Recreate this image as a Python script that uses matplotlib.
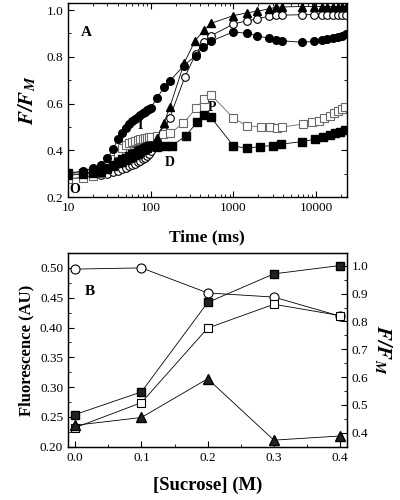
import matplotlib
matplotlib.use('Agg')
import matplotlib.pyplot as plt
from matplotlib.ticker import MultipleLocator, LogLocator, NullFormatter, FixedLocator

plt.rcParams['font.family'] = ['Liberation Serif', 'DejaVu Serif']
plt.rcParams['mathtext.fontset'] = 'stix'

# ---- Panel A: fluorescence induction curves ----
t_early = [10, 15, 20, 25, 30, 35, 40, 45, 50, 55, 60, 65, 70, 75, 80, 85, 90, 95, 100]

t_fcirc = t_early + [120, 145, 170, 250, 350, 430, 530, 1000, 1450, 1950, 2700, 3300, 3850,
                     6700, 9500, 11700, 13700, 15900, 18200, 20500, 23000]
y_fcirc = [0.303, 0.312, 0.324, 0.340, 0.367, 0.405, 0.447, 0.475, 0.497, 0.512, 0.524, 0.535,
           0.544, 0.552, 0.559, 0.565, 0.571, 0.576, 0.582,
           0.625, 0.670, 0.697, 0.761, 0.805, 0.843, 0.866, 0.907, 0.900, 0.890, 0.879, 0.872,
           0.869, 0.862, 0.866, 0.872, 0.876, 0.879, 0.883, 0.889, 0.896]

t_ocirc = t_early + [120, 145, 170, 260, 350, 440, 530, 1000, 1450, 1950, 2700, 3300, 3850,
                     6700, 9500, 11700, 13700, 15900, 18200, 20500, 23000]
y_ocirc = [0.278, 0.285, 0.290, 0.295, 0.300, 0.307, 0.313, 0.320, 0.326, 0.332, 0.338, 0.344,
           0.350, 0.356, 0.363, 0.370, 0.378, 0.387, 0.397,
           0.430, 0.485, 0.540, 0.715, 0.812, 0.865, 0.889, 0.940, 0.954, 0.962, 0.974, 0.977,
           0.978, 0.980, 0.980, 0.980, 0.980, 0.980, 0.980, 0.980, 0.980]

t_tri = t_early + [120, 145, 170, 255, 345, 445, 535, 1000, 1450, 1950, 2700, 3300, 3850,
                   6700, 9500, 11700, 13700, 15900, 18200, 20500, 23000]
y_tri = [0.295, 0.298, 0.302, 0.310, 0.320, 0.335, 0.345, 0.352, 0.360, 0.367, 0.374, 0.380,
         0.387, 0.393, 0.400, 0.406, 0.412, 0.418, 0.424,
         0.455, 0.519, 0.584, 0.775, 0.869, 0.915, 0.943, 0.976, 0.988, 0.995, 1.005, 1.012,
         1.013, 1.015, 1.015, 1.015, 1.015, 1.015, 1.015, 1.015, 1.015]

t_fsq = t_early + [120, 150, 180, 265, 367, 446, 535, 1000, 1450, 2100, 3000, 3800,
                   6800, 9700, 12200, 14800, 17000, 19500, 22300]
y_fsq = [0.303, 0.305, 0.308, 0.315, 0.325, 0.340, 0.352, 0.362, 0.370, 0.377, 0.384, 0.390,
         0.396, 0.402, 0.407, 0.412, 0.416, 0.419, 0.421,
         0.415, 0.418, 0.420, 0.462, 0.522, 0.552, 0.542, 0.420, 0.409, 0.417, 0.421, 0.427,
         0.438, 0.448, 0.458, 0.466, 0.473, 0.481, 0.488]

t_osq = t_early + [120, 140, 171, 248, 353, 440, 535, 1000, 1450, 2160, 2780, 3340, 3900,
                   7000, 8900, 10900, 12600, 14700, 16600, 18600, 20700, 22700]
y_osq = [0.280, 0.283, 0.290, 0.305, 0.335, 0.365, 0.390, 0.410, 0.425, 0.433, 0.438, 0.442,
         0.445, 0.448, 0.450, 0.452, 0.455, 0.457, 0.458,
         0.460, 0.469, 0.473, 0.516, 0.580, 0.619, 0.638, 0.539, 0.505, 0.502, 0.499, 0.497,
         0.500, 0.513, 0.522, 0.527, 0.540, 0.549, 0.559, 0.567, 0.576, 0.584]

# ---- Panel B: versus sucrose ----
sucrose = [0.0, 0.1, 0.2, 0.3, 0.4]
b_ocirc = [0.498, 0.500, 0.458, 0.451, 0.419]
b_fsq = [0.254, 0.292, 0.442, 0.490, 0.504]
b_osq = [0.232, 0.274, 0.399, 0.439, 0.420]
b_tri = [0.236, 0.249, 0.314, 0.211, 0.218]

fig = plt.figure(figsize=(4, 5), dpi=100)

ax = fig.add_axes([0.17, 0.6054, 0.6967, 0.3886])
ms = 5.5
lw = 0.6
ax.plot(t_ocirc, y_ocirc, '-o', color='black', mfc='white', mec='black', ms=ms, lw=lw, mew=0.8)
ax.plot(t_osq, y_osq, '-s', color='dimgray', mfc='white', mec='dimgray', ms=ms, lw=lw, mew=0.8)
ax.plot(t_fsq, y_fsq, '-s', color='black', mfc='black', ms=ms, lw=lw)
ax.plot(t_tri, y_tri, '-^', color='black', mfc='black', ms=ms, lw=lw)
ax.plot(t_fcirc, y_fcirc, '-o', color='black', mfc='black', ms=ms, lw=lw)

ax.set_xscale('log')
ax.set_xlim(10, 23500)
ax.set_ylim(0.2, 1.03)
ax.yaxis.set_major_locator(MultipleLocator(0.2))
ax.yaxis.set_minor_locator(MultipleLocator(0.1))
ax.xaxis.set_major_locator(FixedLocator([10, 100, 1000, 10000]))
ax.xaxis.set_minor_locator(LogLocator(base=10, subs=range(2, 10), numticks=20))
ax.xaxis.set_minor_formatter(NullFormatter())
ax.set_xticklabels(['10', '100', '1000', '10000'])
ax.tick_params(which='both', direction='in', top=True, right=True, labelsize=9.5)
ax.tick_params(which='major', length=4)
ax.tick_params(which='minor', length=2)
ax.set_xlabel('Time (ms)', fontsize=12.5, fontweight='bold', labelpad=11)
ax.set_ylabel(r'$\mathbfit{F/F}_{\mathbfit{M}}$', fontsize=15, labelpad=6)
for s in ax.spines.values():
    s.set_linewidth(1.0)

ax.text(0.065, 0.846, 'A', transform=ax.transAxes, fontsize=11, fontweight='bold',
        ha='center', va='center')
ax.text(12.2, 0.235, 'O', fontsize=10, fontweight='bold', ha='center', va='center', zorder=10)
ax.text(74, 0.505, 'I', fontsize=10, fontweight='bold', ha='center', va='center', zorder=10)
ax.text(168, 0.35, 'D', fontsize=10, fontweight='bold', ha='center', va='center', zorder=10)
ax.text(556, 0.585, 'P', fontsize=10, fontweight='bold', ha='center', va='center', zorder=10)

# panel B
bx = fig.add_axes([0.17, 0.1054, 0.6967, 0.3886])
bx.plot(sucrose, b_ocirc, '-o', color='black', mfc='white', ms=6.5, lw=lw, mew=0.8)
bx.plot(sucrose, b_osq, '-s', color='black', mfc='white', ms=6, lw=lw, mew=0.8)
bx.plot(sucrose, b_fsq, '-s', color='black', mfc='#222222', ms=5.5, lw=lw)
bx.plot(sucrose, b_tri, '-^', color='black', mfc='#222222', ms=6.5, lw=lw)
bx.set_xlim(-0.011, 0.41)
bx.set_ylim(0.199, 0.525)
bx.xaxis.set_major_locator(MultipleLocator(0.1))
bx.xaxis.set_minor_locator(MultipleLocator(0.05))
bx.yaxis.set_major_locator(MultipleLocator(0.05))
bx.yaxis.set_minor_locator(MultipleLocator(0.025))
bx.tick_params(which='both', direction='in', labelsize=9.5)
bx.tick_params(which='major', length=4)
bx.tick_params(which='minor', length=2)
bx.set_xlabel('[Sucrose] (M)', fontsize=13.5, fontweight='bold', labelpad=9)
bx.set_ylabel('Fluorescence (AU)', fontsize=12, fontweight='bold', labelpad=4)
bx.text(0.079, 0.80, 'B', transform=bx.transAxes, fontsize=11, fontweight='bold',
        ha='center', va='center')
for s in bx.spines.values():
    s.set_linewidth(1.0)

rx = bx.twinx()
rx.set_ylim(0.348, 1.046)
rx.yaxis.set_major_locator(MultipleLocator(0.1))
rx.yaxis.set_minor_locator(MultipleLocator(0.05))
rx.tick_params(which='both', direction='in', labelsize=9.5)
rx.tick_params(which='major', length=4)
rx.tick_params(which='minor', length=2)
rx.set_ylabel(r'$\mathbfit{F/F}_{\mathbfit{M}}$', fontsize=15, rotation=270, labelpad=18)

fig.savefig('out.png', dpi=100)
